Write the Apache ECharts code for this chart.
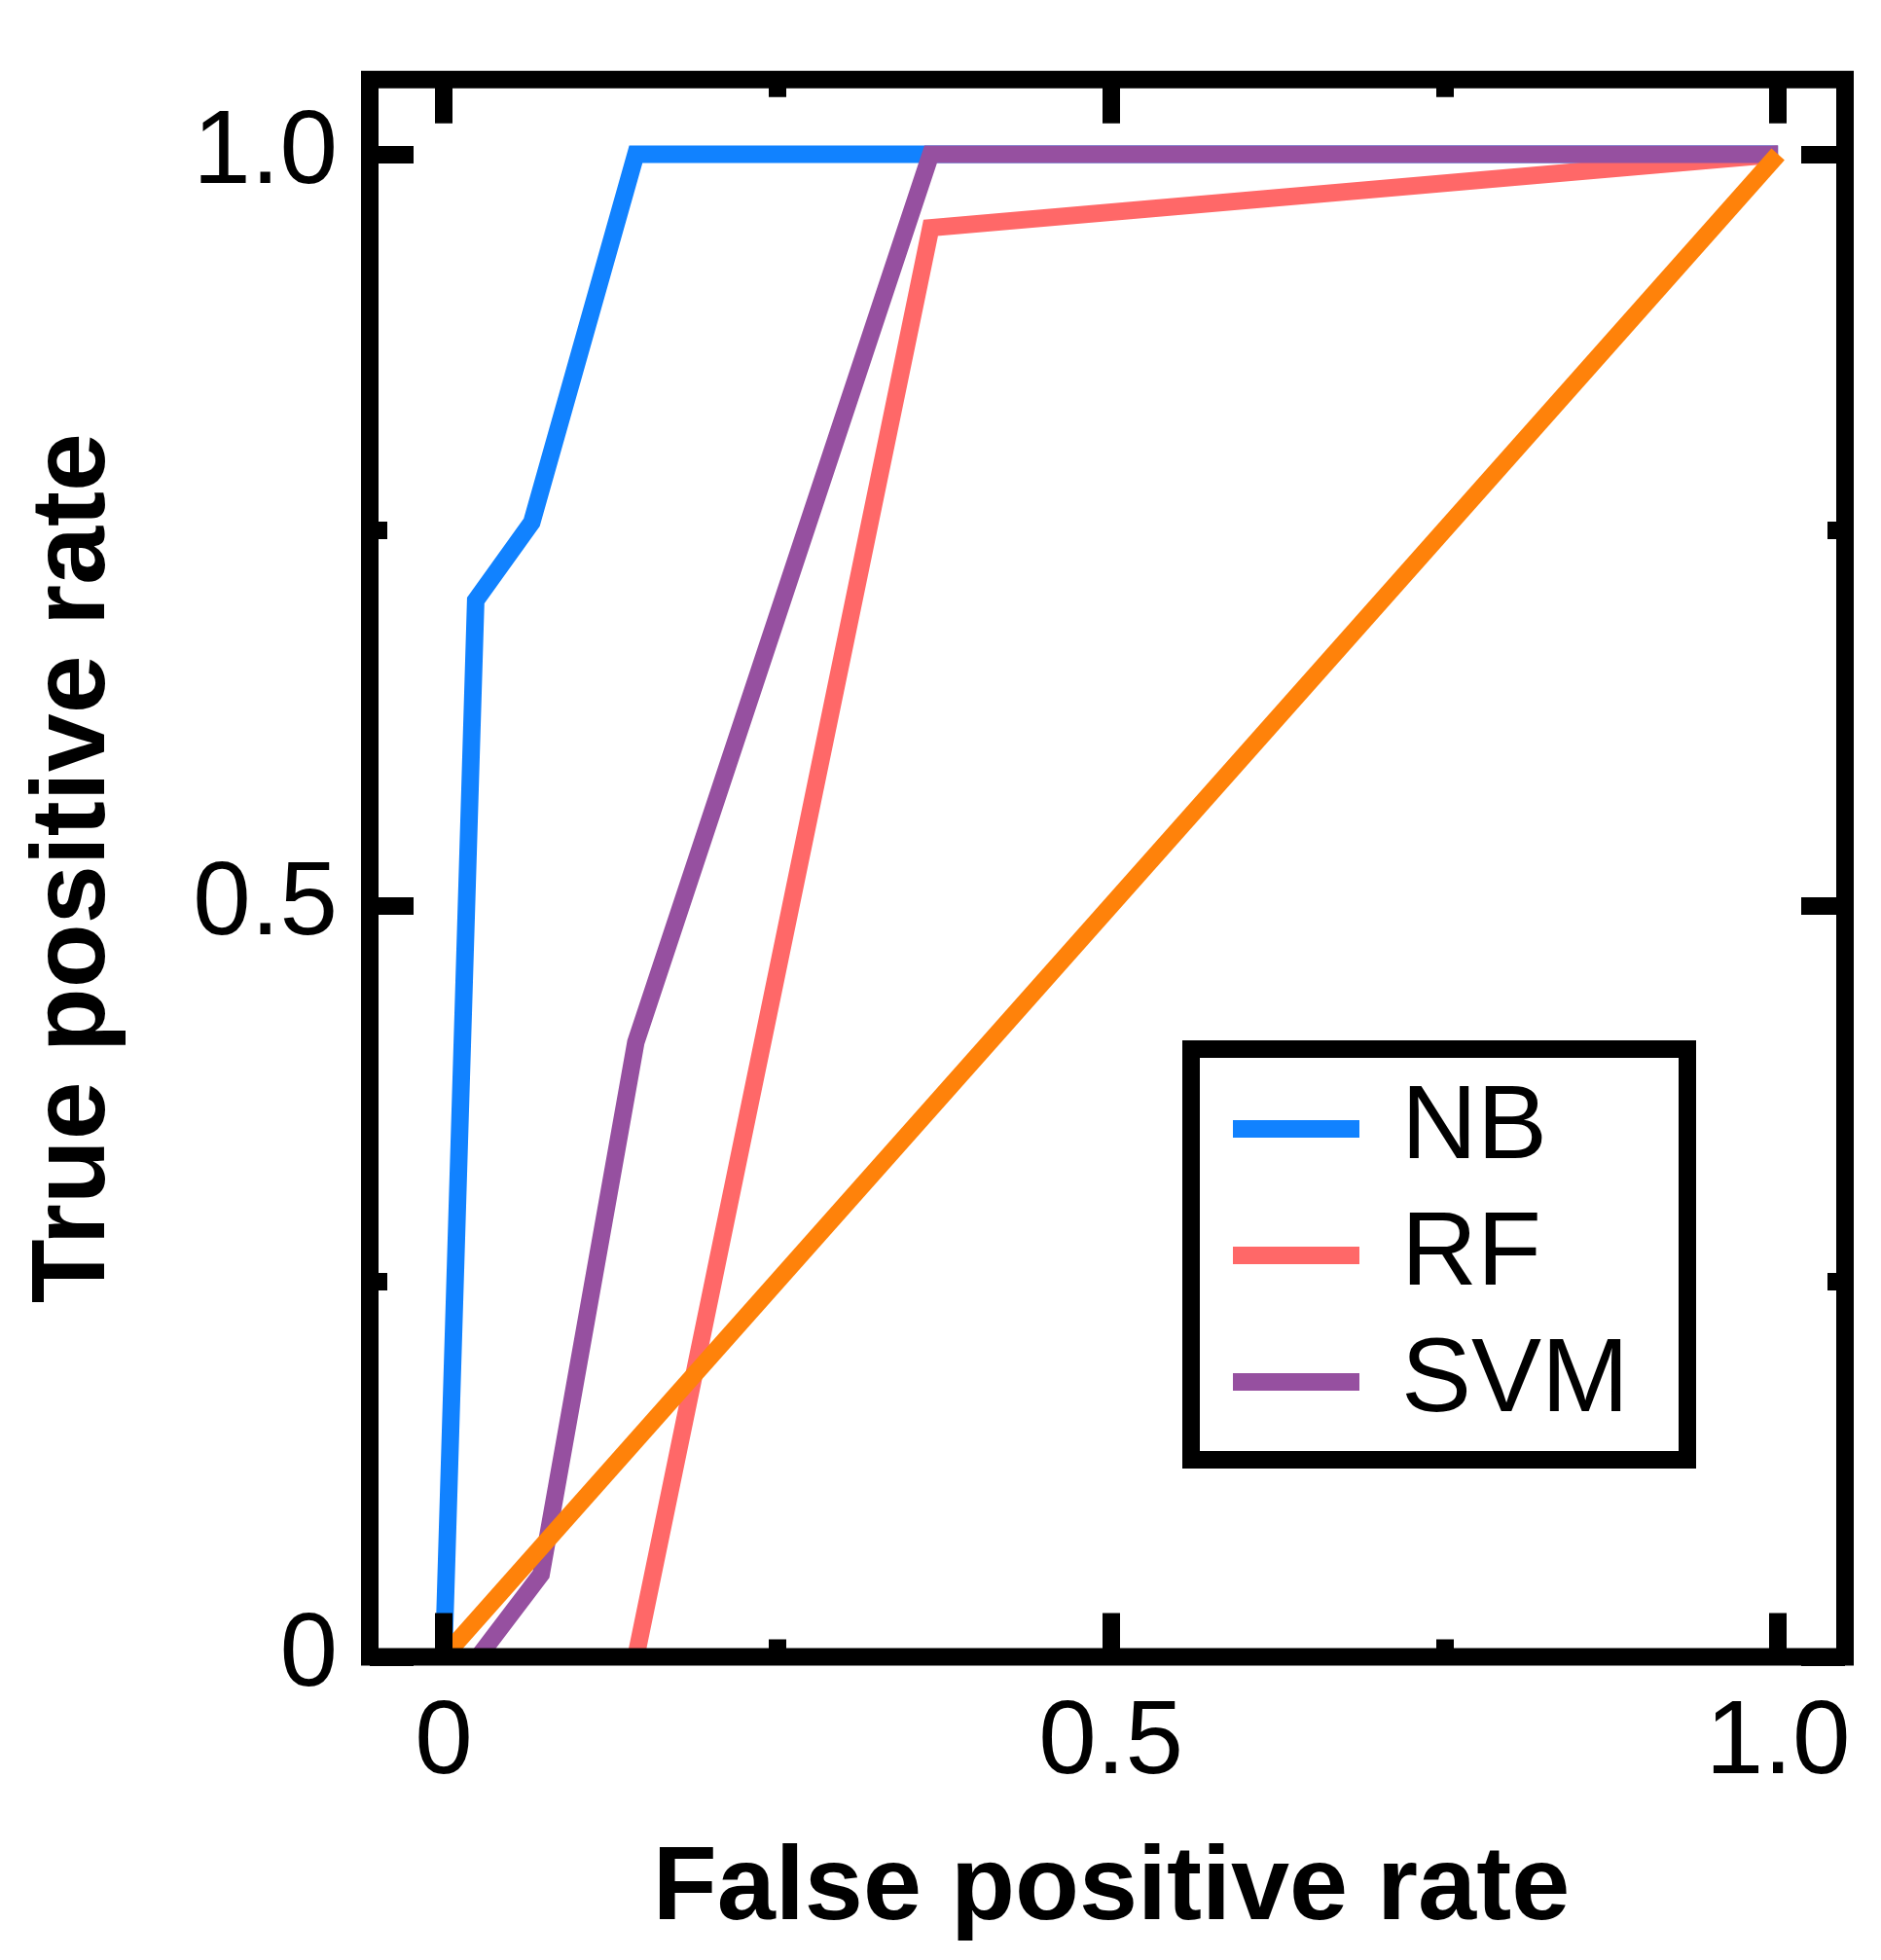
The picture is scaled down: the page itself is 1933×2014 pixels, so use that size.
<!DOCTYPE html>
<html>
<head>
<meta charset="utf-8">
<script src="https://cdn.jsdelivr.net/npm/echarts@6/dist/echarts.min.js"></script>
<style>
html,body{margin:0;padding:0;background:#fff;}
#chart{width:1933px;height:2014px;}
</style>
</head>
<body>
<div id="chart"></div>
<script>
// ---- data ----
const SERIES_NAMES = ['NB', 'RF', 'SVM'];
const NB_FPR = [0, 0.024, 0.066, 0.144, 1];
const NB_TPR = [0, 0.703, 0.755, 1, 1];
const RF_FPR = [0.144, 0.365, 1];
const RF_TPR = [0, 0.951, 1];
const SVM_FPR = [0.026, 0.073, 0.144, 0.365, 1];
const SVM_TPR = [0, 0.055, 0.409, 1, 1];
const DIAG_FPR = [0, 1];
const DIAG_TPR = [0, 1];
const X_MAJOR = [0, 0.5, 1];
const X_MINOR = [0.25, 0.75];
const Y_MAJOR = [0, 0.5, 1];
const Y_MINOR = [0.25, 0.75];
const TICK_LABELS = {0: '0', 0.5: '0.5', 1: '1.0'};
const X_TITLE = 'False positive rate';
const Y_TITLE = 'True positive rate';

const COLORS = ['#1182ff', '#ff6868', '#9650a0', '#ff820a'];
const FONT = "'Liberation Sans', Arial, Helvetica, sans-serif";
const XMIN = -0.0554, XMAX = 1.0502, YMIN = 0, YMAX = 1.0497;

function pairs(xs, ys) { return xs.map((x, i) => [x, ys[i]]); }
function fmt(v) { return TICK_LABELS[v] !== undefined ? TICK_LABELS[v] : String(v); }

const tickStyle = {color: '#000', width: 18, cap: 'butt'};
function xAxisDef(pos, values, len, labels) {
  const a = {
    type: 'value', position: pos, min: XMIN, max: XMAX, gridIndex: 0, z: 10,
    axisLine: {show: false, onZero: false},
    splitLine: {show: false},
    axisTick: {show: true, inside: true, length: len, lineStyle: tickStyle, customValues: values},
    axisLabel: {show: !!labels, customValues: values, formatter: fmt, margin: 36,
      fontSize: 107, color: '#000', fontFamily: FONT}
  };
  if (labels) {
    a.name = X_TITLE; a.nameLocation = 'middle'; a.nameGap = 186;
    a.nameTextStyle = {fontSize: 108, fontWeight: 'bold', color: '#000', fontFamily: FONT, padding: [0, 0, 0, 8]};
  }
  return a;
}
function yAxisDef(pos, values, len, labels) {
  const a = {
    type: 'value', position: pos, min: YMIN, max: YMAX, gridIndex: 0, z: 10,
    axisLine: {show: false, onZero: false},
    splitLine: {show: false},
    axisTick: {show: true, inside: true, length: len, lineStyle: tickStyle, customValues: values},
    axisLabel: {show: !!labels, customValues: values, formatter: fmt, margin: 33,
      fontSize: 107, color: '#000', fontFamily: FONT}
  };
  if (labels) {
    a.name = Y_TITLE; a.nameLocation = 'middle'; a.nameGap = 249;
    a.nameTextStyle = {fontSize: 108, fontWeight: 'bold', color: '#000', fontFamily: FONT};
  }
  return a;
}

function lineSeries(name, data, color, z) {
  return {
    type: 'line', name: name, data: data, xAxisIndex: 0, yAxisIndex: 0,
    symbol: 'none', z: z, color: color,
    lineStyle: {width: 18, color: color, cap: 'butt', join: 'miter'},
    emphasis: {disabled: true}
  };
}

const chart = echarts.init(document.getElementById('chart'), null, {renderer: 'canvas'});
chart.setOption({
  animation: false,
  backgroundColor: '#fff',
  grid: {
    left: 380, top: 81.7, right: 37, bottom: 311.5, z: 10,
    show: true, borderColor: '#000', borderWidth: 18, backgroundColor: 'transparent',
    containLabel: false, outerBoundsMode: 'none'
  },
  xAxis: [
    xAxisDef('bottom', X_MAJOR, 45, true),
    xAxisDef('top', X_MAJOR, 45, false),
    xAxisDef('bottom', X_MINOR, 18, false),
    xAxisDef('top', X_MINOR, 18, false)
  ],
  yAxis: [
    yAxisDef('left', Y_MAJOR, 45, true),
    yAxisDef('right', Y_MAJOR, 45, false),
    yAxisDef('left', Y_MINOR, 18, false),
    yAxisDef('right', Y_MINOR, 18, false)
  ],
  legend: {
    data: SERIES_NAMES,
    orient: 'vertical',
    left: 1267, top: 1095,
    padding: 0,
    itemGap: 0,
    itemWidth: 130, itemHeight: 18,
    icon: 'rect',
    selectedMode: false,
    z: 20,
    textStyle: {fontSize: 108, color: '#000', fontFamily: FONT, lineHeight: 110, padding: [20, 0, 0, 38]}
  },
  graphic: [{
    type: 'rect', z: 100,
    shape: {x: 1224, y: 1078, width: 510, height: 422},
    style: {fill: null, stroke: '#000', lineWidth: 18}
  }],
  series: [
    lineSeries(SERIES_NAMES[0], pairs(NB_FPR, NB_TPR), COLORS[0], 1),
    lineSeries(SERIES_NAMES[1], pairs(RF_FPR, RF_TPR), COLORS[1], 2),
    lineSeries(SERIES_NAMES[2], pairs(SVM_FPR, SVM_TPR), COLORS[2], 3),
    lineSeries('Random', pairs(DIAG_FPR, DIAG_TPR), COLORS[3], 4)
  ]
});
</script>
</body>
</html>
